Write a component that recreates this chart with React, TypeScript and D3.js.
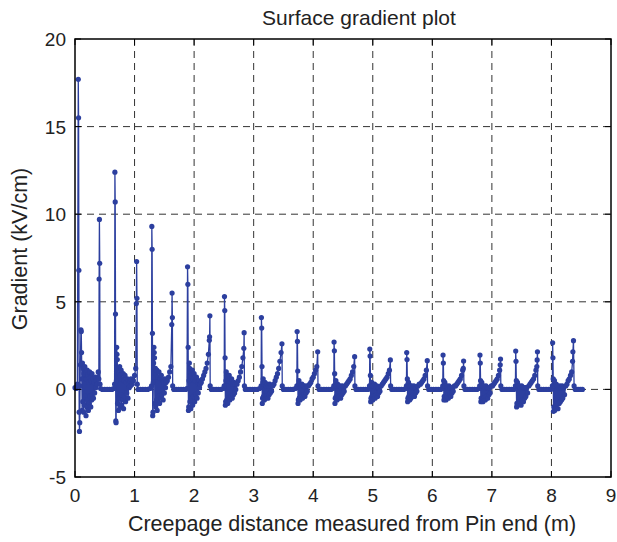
import React from "react";
import * as d3 from "d3";

type P = [number, number];

const xTicks = [0, 1, 2, 3, 4, 5, 6, 7, 8, 9];
const yTicks = [-5, 0, 5, 10, 15, 20];

const shed1: P[] = [[0,0.1],[0.02,0.05],[0.04,0.3],[0.055,17.7],[0.06,15.5],[0.065,6.8],[0.07,-1.3],[0.075,-2.4],[0.08,-1.9],[0.085,0.2],[0.09,1.4],[0.1,3.4],[0.105,3.3],[0.11,2.1],[0.115,0.6],[0.12,-1.2],[0.125,1.5],[0.13,-0.7],[0.14,1.2],[0.145,-1.3],[0.15,0.9],[0.16,-0.9],[0.165,1.3],[0.17,-0.4],[0.18,1.0],[0.185,-1.5],[0.19,0.6],[0.2,-1.0],[0.205,1.1],[0.21,-0.6],[0.22,0.8],[0.225,-1.2],[0.23,0.4],[0.24,-0.8],[0.245,1.0],[0.25,-0.4],[0.26,0.7],[0.265,-1.0],[0.27,0.5],[0.28,-0.6],[0.285,0.9],[0.29,-0.3],[0.3,0.6],[0.31,-0.5],[0.32,0.4],[0.33,-0.2],[0.34,0.7],[0.35,0.1],[0.36,0.5],[0.37,0.3],[0.38,0.7],[0.39,1.0],[0.4,0.6],[0.405,6.3],[0.41,9.7],[0.415,7.2],[0.42,0.3],[0.43,0.05],[0.46,0],[0.5,0],[0.54,0],[0.58,0],[0.62,0],[0.65,0.05]];
const shed2: P[] = [[0.665,0.3],[0.67,12.4],[0.675,10.7],[0.68,4.3],[0.685,-1.8],[0.69,-1.9],[0.695,0.5],[0.7,2.4],[0.705,2.0],[0.71,1.7],[0.715,-0.8],[0.72,1.2],[0.73,-1.2],[0.735,0.9],[0.74,-0.5],[0.75,1.3],[0.755,-1.0],[0.76,0.8],[0.77,-0.3],[0.775,1.1],[0.78,-0.9],[0.79,0.6],[0.8,-0.6],[0.81,0.9],[0.815,-1.1],[0.82,0.5],[0.83,-0.4],[0.84,0.8],[0.85,-0.7],[0.86,0.4],[0.87,-0.2],[0.88,0.6],[0.89,-0.5],[0.9,0.3],[0.91,0.1],[0.92,0.5],[0.93,0.2],[0.94,0.6],[0.96,0.3],[0.98,0.5],[1.0,0.8],[1.02,1.2],[1.03,4.9],[1.035,7.3],[1.04,5.2],[1.045,0.3],[1.06,0],[1.1,0],[1.14,0],[1.18,0],[1.22,0],[1.26,0.05]];
const shed3: P[] = [[1.285,0.2],[1.29,9.3],[1.295,8.0],[1.3,3.2],[1.305,-1.5],[1.31,-1.3],[1.315,0.4],[1.32,1.5],[1.325,2.4],[1.33,2.1],[1.335,1.8],[1.34,-0.8],[1.35,1.2],[1.355,-1.0],[1.36,0.9],[1.37,-0.6],[1.375,1.1],[1.38,-1.2],[1.39,0.7],[1.4,-0.4],[1.41,1.0],[1.42,-0.8],[1.43,0.6],[1.44,-0.5],[1.45,0.8],[1.46,-0.3],[1.47,0.5],[1.48,-0.6],[1.49,0.4],[1.5,-0.2],[1.51,0.6],[1.52,0.1],[1.53,0.4],[1.55,0.5],[1.57,0.7],[1.59,1.0],[1.61,1.3],[1.625,3.7],[1.63,5.5],[1.635,4.1],[1.64,0.2],[1.66,0],[1.7,0],[1.74,0],[1.78,0],[1.82,0],[1.86,0],[1.88,0.05]];
const shed4: P[] = [[1.89,7.0],[1.895,6.0],[1.9,2.4],[1.905,-1.2],[1.91,-1.0],[1.915,0.5],[1.92,1.5],[1.925,1.2],[1.93,-0.7],[1.94,1.0],[1.945,-1.1],[1.95,0.8],[1.96,-0.5],[1.97,1.1],[1.975,-0.9],[1.98,0.6],[1.99,-0.4],[2.0,0.9],[2.01,-0.7],[2.02,0.5],[2.03,-0.3],[2.04,0.7],[2.05,-0.5],[2.06,0.4],[2.07,-0.2],[2.08,0.5],[2.09,0.1],[2.1,0.3],[2.12,0.4],[2.14,0.6],[2.16,0.8],[2.18,1.0],[2.2,1.2],[2.22,1.5],[2.24,2.0],[2.255,2.8],[2.26,3.0],[2.265,4.2],[2.27,0.2],[2.29,0],[2.33,0],[2.37,0],[2.41,0],[2.45,0],[2.49,0.05]];
const shed5: P[] = [[2.505,0.2],[2.51,5.3],[2.515,4.5],[2.52,1.8],[2.525,-0.9],[2.53,-0.7],[2.535,0.5],[2.54,1.0],[2.545,0.8],[2.55,-0.6],[2.56,0.7],[2.565,-0.8],[2.57,0.5],[2.58,-0.5],[2.59,0.8],[2.6,-0.6],[2.61,0.4],[2.62,-0.4],[2.63,0.6],[2.64,-0.5],[2.65,0.3],[2.66,-0.3],[2.67,0.4],[2.68,-0.2],[2.69,0.3],[2.7,0.0],[2.72,0.3],[2.74,0.5],[2.76,0.7],[2.78,1.0],[2.8,1.3],[2.82,1.8],[2.835,2.35],[2.84,3.24],[2.845,0.2],[2.86,0],[2.9,0],[2.94,0],[2.98,0],[3.02,0],[3.06,0],[3.1,0.05]];
const shed6: P[] = [[3.125,0.2],[3.13,4.1],[3.135,3.5],[3.14,1.3],[3.145,-0.8],[3.15,-0.5],[3.155,0.4],[3.16,0.6],[3.165,-0.4],[3.17,0.3],[3.18,-0.6],[3.19,0.4],[3.2,-0.5],[3.21,0.2],[3.22,-0.4],[3.23,0.3],[3.24,-0.5],[3.25,0.2],[3.26,-0.3],[3.27,0.3],[3.28,-0.2],[3.29,0.2],[3.3,-0.1],[3.32,0.2],[3.34,0.3],[3.36,0.5],[3.38,0.7],[3.4,0.9],[3.42,1.2],[3.44,1.6],[3.46,2.1],[3.475,2.6],[3.48,0.2],[3.5,0],[3.54,0],[3.58,0],[3.62,0],[3.66,0],[3.7,0.05]];
const shed7: P[] = [[3.725,0.2],[3.73,3.3],[3.735,2.74],[3.74,1.05],[3.745,-0.8],[3.75,-0.6],[3.755,0.3],[3.76,0.5],[3.765,-0.5],[3.77,0.3],[3.78,-0.6],[3.79,0.2],[3.8,-0.4],[3.81,0.3],[3.82,-0.5],[3.83,0.2],[3.84,-0.3],[3.85,0.2],[3.86,-0.4],[3.87,0.1],[3.88,-0.2],[3.89,0.2],[3.9,-0.1],[3.92,0.2],[3.94,0.3],[3.96,0.4],[3.98,0.6],[4.0,0.7],[4.02,0.9],[4.04,1.1],[4.06,1.3],[4.075,2.15],[4.08,0.2],[4.1,0],[4.14,0],[4.18,0],[4.22,0],[4.26,0],[4.3,0],[4.33,0.05]];
const shed8: P[] = [[4.345,0.2],[4.35,2.7],[4.355,2.2],[4.36,0.9],[4.365,-0.8],[4.37,-0.5],[4.375,0.3],[4.38,0.5],[4.385,-0.4],[4.39,0.2],[4.4,-0.6],[4.41,0.3],[4.42,-0.5],[4.43,0.2],[4.44,-0.4],[4.45,0.2],[4.46,-0.5],[4.47,0.1],[4.48,-0.3],[4.49,0.2],[4.5,-0.2],[4.51,0.1],[4.52,-0.1],[4.54,0.2],[4.56,0.3],[4.58,0.4],[4.6,0.5],[4.62,0.6],[4.64,0.8],[4.66,1.0],[4.68,1.3],[4.695,1.87],[4.7,0.2],[4.72,0],[4.76,0],[4.8,0],[4.84,0],[4.88,0],[4.92,0],[4.94,0.05]];
const shed9: P[] = [[4.945,0.2],[4.95,2.3],[4.955,1.9],[4.96,0.8],[4.965,-0.7],[4.97,-0.5],[4.975,0.3],[4.98,0.4],[4.985,-0.4],[4.99,0.2],[5.0,-0.6],[5.01,0.2],[5.02,-0.4],[5.03,0.3],[5.04,-0.5],[5.05,0.1],[5.06,-0.3],[5.07,0.2],[5.08,-0.4],[5.09,0.1],[5.1,-0.2],[5.11,0.1],[5.12,-0.1],[5.14,0.2],[5.16,0.3],[5.18,0.4],[5.2,0.5],[5.22,0.6],[5.24,0.7],[5.26,0.9],[5.28,1.1],[5.295,1.68],[5.3,0.2],[5.32,0],[5.36,0],[5.4,0],[5.44,0],[5.48,0],[5.52,0],[5.56,0.05]];
const shed10: P[] = [[5.565,0.2],[5.57,2.1],[5.575,1.7],[5.58,0.6],[5.585,-0.7],[5.59,-0.5],[5.595,0.3],[5.6,0.4],[5.605,-0.4],[5.61,0.2],[5.62,-0.6],[5.63,0.2],[5.64,-0.5],[5.65,0.2],[5.66,-0.4],[5.67,0.1],[5.68,-0.3],[5.69,0.2],[5.7,-0.4],[5.71,0.1],[5.72,-0.2],[5.73,0.1],[5.74,-0.1],[5.76,0.2],[5.78,0.3],[5.8,0.3],[5.82,0.4],[5.84,0.5],[5.86,0.6],[5.88,0.8],[5.9,1.1],[5.915,1.64],[5.92,0.2],[5.94,0],[5.98,0],[6.02,0],[6.06,0],[6.1,0],[6.14,0],[6.17,0.05]];
const shed11: P[] = [[6.175,0.2],[6.18,1.96],[6.185,1.5],[6.19,0.5],[6.195,-0.6],[6.2,-0.4],[6.205,0.3],[6.21,0.4],[6.215,-0.5],[6.22,0.2],[6.23,-0.6],[6.24,0.2],[6.25,-0.4],[6.26,0.1],[6.27,-0.5],[6.28,0.2],[6.29,-0.3],[6.3,0.1],[6.31,-0.4],[6.32,0.1],[6.33,-0.2],[6.34,0.1],[6.35,-0.1],[6.37,0.2],[6.39,0.2],[6.41,0.3],[6.43,0.4],[6.45,0.5],[6.47,0.6],[6.49,0.8],[6.51,1.1],[6.52,1.2],[6.525,1.62],[6.53,0.2],[6.55,0],[6.59,0],[6.63,0],[6.67,0],[6.71,0],[6.75,0],[6.79,0.05]];
const shed12: P[] = [[6.795,0.2],[6.8,1.96],[6.805,1.5],[6.81,0.5],[6.815,-0.7],[6.82,-0.5],[6.825,0.3],[6.83,0.4],[6.835,-0.6],[6.84,0.2],[6.85,-0.7],[6.86,0.2],[6.87,-0.5],[6.88,0.1],[6.89,-0.6],[6.9,0.2],[6.91,-0.4],[6.92,0.1],[6.93,-0.5],[6.94,0.1],[6.95,-0.3],[6.96,0.1],[6.97,-0.2],[6.99,0.2],[7.01,0.2],[7.03,0.3],[7.05,0.4],[7.07,0.5],[7.09,0.6],[7.11,0.8],[7.13,1.1],[7.14,1.4],[7.145,1.73],[7.15,0.2],[7.17,0],[7.21,0],[7.25,0],[7.29,0],[7.33,0],[7.37,0],[7.39,0.05]];
const shed13: P[] = [[7.395,0.2],[7.4,2.19],[7.405,1.6],[7.41,0.5],[7.415,-1.0],[7.42,-0.8],[7.425,0.3],[7.43,0.4],[7.435,-0.9],[7.44,0.2],[7.45,-0.8],[7.46,0.2],[7.47,-0.7],[7.48,0.1],[7.49,-0.9],[7.5,0.2],[7.51,-0.6],[7.52,0.1],[7.53,-0.7],[7.54,0.1],[7.55,-0.5],[7.56,0.1],[7.57,-0.4],[7.58,0.1],[7.6,-0.2],[7.62,0.2],[7.64,0.3],[7.66,0.4],[7.68,0.5],[7.7,0.6],[7.72,0.8],[7.74,1.1],[7.755,1.3],[7.76,1.68],[7.765,2.15],[7.77,0.2],[7.79,0],[7.83,0],[7.87,0],[7.91,0],[7.95,0],[7.99,0],[8.01,0.05]];
const shed14: P[] = [[8.015,0.2],[8.02,2.66],[8.025,1.8],[8.03,0.6],[8.035,-1.25],[8.04,-1.0],[8.045,0.3],[8.05,0.5],[8.055,-1.2],[8.06,0.2],[8.07,-1.0],[8.08,0.3],[8.09,-0.8],[8.1,0.2],[8.11,-1.1],[8.12,0.1],[8.13,-0.8],[8.14,0.2],[8.15,-0.7],[8.16,0.1],[8.17,-0.6],[8.18,0.2],[8.19,-0.5],[8.2,0.1],[8.22,-0.3],[8.24,0.2],[8.26,0.3],[8.28,0.5],[8.3,0.6],[8.32,0.8],[8.34,1.0],[8.355,1.6],[8.36,2.15],[8.37,2.78],[8.38,0.2],[8.4,0],[8.43,0],[8.46,0],[8.49,0],[8.52,0]];

const series: P[] = [
  ...shed1, ...shed2, ...shed3, ...shed4, ...shed5, ...shed6, ...shed7,
  ...shed8, ...shed9, ...shed10, ...shed11, ...shed12, ...shed13, ...shed14,
];

const W = 617;
const H = 542;
const M = { left: 75, right: 611, top: 39, bottom: 477 };
const FONT = "'Liberation Sans', Arial, Helvetica, sans-serif";
const BLUE = "#2c3f9f";

export default function App() {
  const x = d3.scaleLinear().domain([0, 9]).range([M.left, M.right]);
  const y = d3.scaleLinear().domain([-5, 20]).range([M.bottom, M.top]);
  const line = d3.line<P>().x((d) => x(d[0])).y((d) => y(d[1]));

  return (
    <svg width={W} height={H} style={{ position: "absolute", left: 0, top: 0, background: "#fff" }}>
      <rect x={0} y={0} width={W} height={H} fill="#fff" />
      {xTicks.slice(1, -1).map((t) => (
        <line key={"gx" + t} x1={x(t)} x2={x(t)} y1={M.top} y2={M.bottom} stroke="#333" strokeWidth={1} strokeDasharray="7,5" />
      ))}
      {yTicks.slice(1, -1).map((t) => (
        <line key={"gy" + t} x1={M.left} x2={M.right} y1={y(t)} y2={y(t)} stroke="#333" strokeWidth={1} strokeDasharray="7,5" />
      ))}
      <path d={line(series) || ""} fill="none" stroke={BLUE} strokeWidth={1.3} strokeLinejoin="round" />
      {series.map((d, i) => (
        <circle key={i} cx={x(d[0])} cy={y(d[1])} r={2.6} fill={BLUE} />
      ))}
      <rect x={M.left} y={M.top} width={M.right - M.left} height={M.bottom - M.top} fill="none" stroke="#000" strokeWidth={1.5} />
      {xTicks.map((t) => (
        <g key={"tx" + t}>
          <line x1={x(t)} x2={x(t)} y1={M.bottom} y2={M.bottom - 6} stroke="#000" />
          <line x1={x(t)} x2={x(t)} y1={M.top} y2={M.top + 6} stroke="#000" />
          <text x={x(t)} y={M.bottom + 25} textAnchor="middle" fontFamily={FONT} fontSize={19} fill="#222">{t}</text>
        </g>
      ))}
      {yTicks.map((t) => (
        <g key={"ty" + t}>
          <line x1={M.left} x2={M.left + 6} y1={y(t)} y2={y(t)} stroke="#000" />
          <line x1={M.right} x2={M.right - 6} y1={y(t)} y2={y(t)} stroke="#000" />
          <text x={M.left - 9} y={y(t) + 7} textAnchor="end" fontFamily={FONT} fontSize={19} fill="#222">{t}</text>
        </g>
      ))}
      <text x={359} y={25} textAnchor="middle" fontFamily={FONT} fontSize={21} fill="#222">Surface gradient plot</text>
      <text x={352} y={531} textAnchor="middle" fontFamily={FONT} fontSize={21.5} fill="#222">Creepage distance measured from Pin end (m)</text>
      <text transform={`translate(27,249) rotate(-90)`} textAnchor="middle" fontFamily={FONT} fontSize={21.5} fill="#222">Gradient (kV/cm)</text>
    </svg>
  );
}
